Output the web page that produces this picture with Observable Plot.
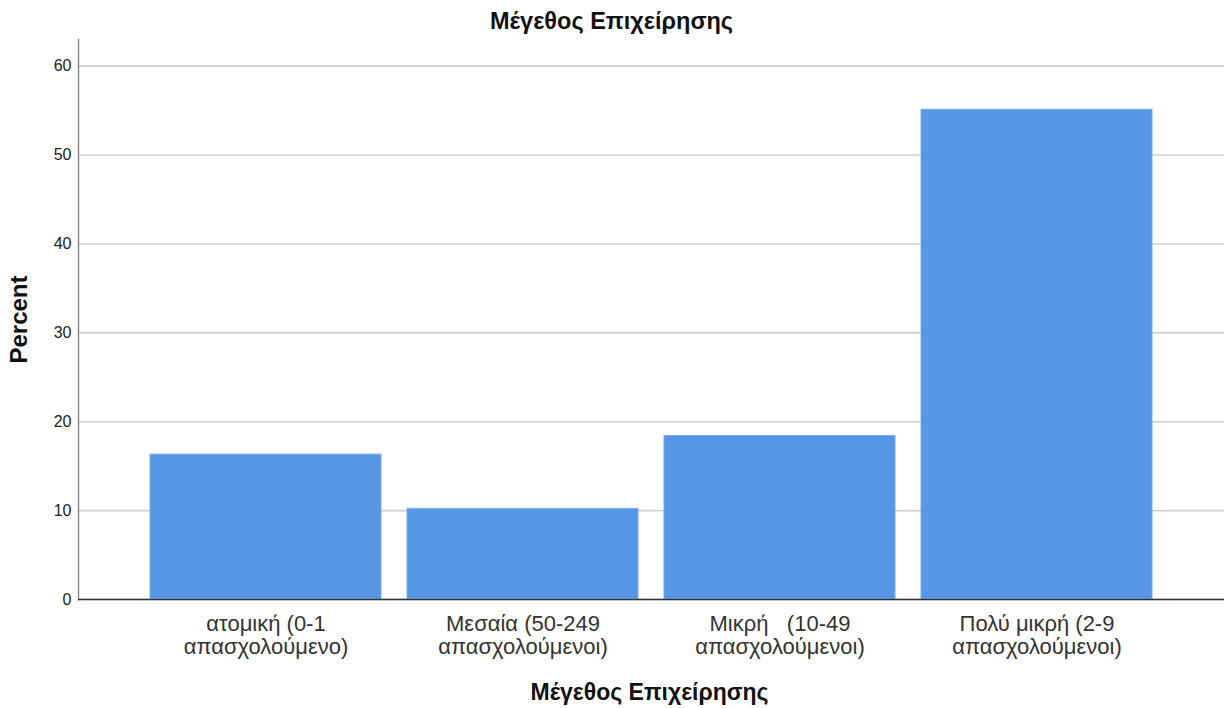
<!DOCTYPE html>
<html>
<head>
<meta charset="utf-8">
<script src="https://cdn.jsdelivr.net/npm/d3@7"></script>
<script src="https://cdn.jsdelivr.net/npm/@observablehq/plot@0.6"></script>
<style>
  body { margin: 0; background: #fff; }
  svg text { white-space: pre; }
</style>
</head>
<body>
<div id="chart"></div>
<script>
const categories = [
  "ατομική (0-1\nαπασχολούμενο)",
  "Μεσαία (50-249\nαπασχολούμενοι)",
  "Μικρή   (10-49\nαπασχολούμενοι)",
  "Πολύ μικρή (2-9\nαπασχολούμενοι)"
];
const percents = [16.3, 10.2, 18.4, 55.1];
const yTicks = [0, 10, 20, 30, 40, 50, 60];
const title = "Μέγεθος Επιχείρησης";
const xLabel = "Μέγεθος Επιχείρησης";
const yLabel = "Percent";

const data = categories.map((c, i) => ({cat: c, pct: percents[i]}));

const chart = Plot.plot({
  width: 1231,
  height: 708,
  marginLeft: 78,
  marginRight: 7,
  marginTop: 39,
  marginBottom: 109,
  style: {fontFamily: "'Liberation Sans', Arial, sans-serif", background: "white", overflow: "visible"},
  x: {domain: categories, paddingInner: 0.1, paddingOuter: 0.276, label: null},
  y: {domain: [0, 63], label: null},
  marks: [
    Plot.gridY(yTicks, {stroke: "#d0d0d0", strokeWidth: 1.6, strokeOpacity: 1}),
    Plot.frame({anchor: "left", stroke: "#8a8a8a", strokeWidth: 1.5}),
    Plot.barY(data, {x: "cat", y: "pct", fill: "#5596e5", stroke: "#7aaeed", strokeWidth: 1}),
    Plot.ruleY([0], {stroke: "#333", strokeWidth: 1.5}),
    Plot.axisY(yTicks, {tickSize: 0, tickPadding: 7, fontSize: 16, fill: "#222", label: null}),
    Plot.axisX({tickSize: 0, tickPadding: 15, fontSize: 22, lineHeight: 1.06, fill: "#333", label: null}),
    Plot.text([yLabel], {frameAnchor: "left", textAnchor: "middle", lineAnchor: "middle", rotate: -90, dx: -59, fontWeight: "bold", fontSize: 24, fill: "#111"}),
    Plot.text([xLabel], {frameAnchor: "bottom", textAnchor: "middle", lineAnchor: "middle", dy: 93, dx: -2, fontWeight: "bold", fontSize: 23, fill: "#111"}),
    Plot.text([title], {frameAnchor: "top", textAnchor: "middle", lineAnchor: "middle", dy: -18, dx: -40, fontWeight: "bold", fontSize: 23.5, fill: "#111"})
  ]
});
document.getElementById("chart").appendChild(chart);
</script>
</body>
</html>
